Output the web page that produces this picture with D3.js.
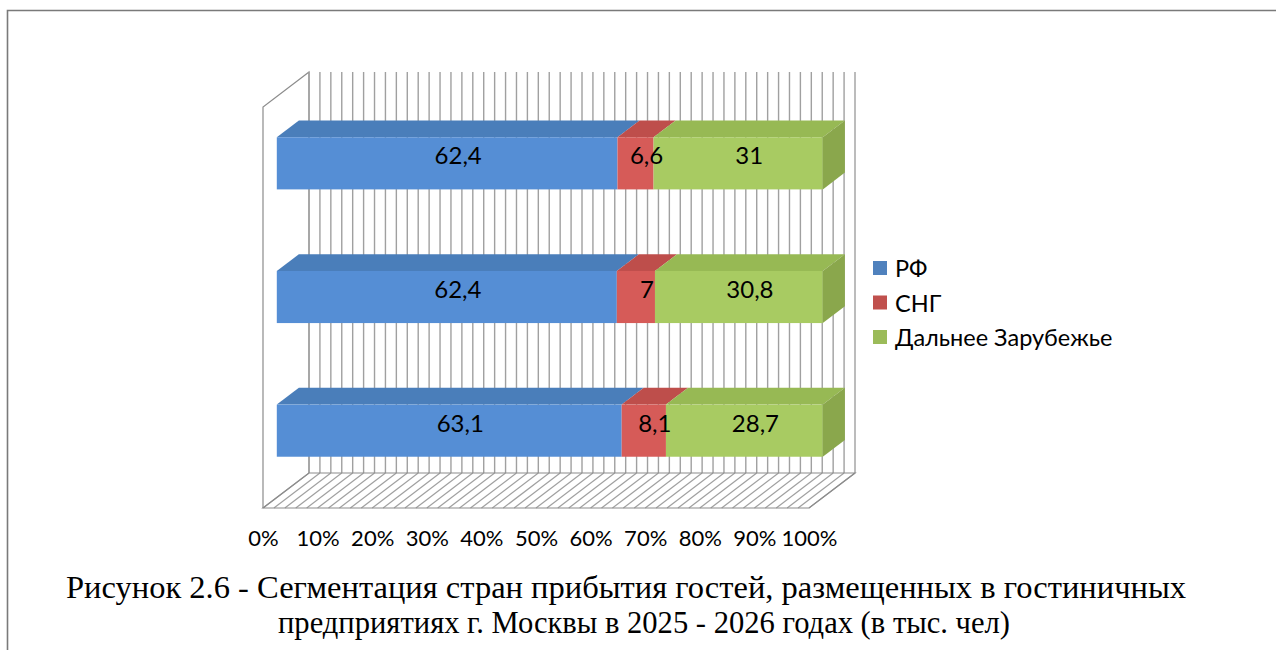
<!DOCTYPE html>
<html>
<head>
<meta charset="utf-8">
<script src="https://cdn.jsdelivr.net/npm/d3@7/dist/d3.min.js"></script>
<style>
  html, body { margin: 0; padding: 0; background: #fff; }
  svg { display: block; }
</style>
</head>
<body>
<svg id="chart" width="1276" height="650"></svg>
<script>
// ---- data ----
const categories = ["2024", "2025", "2026"];           // bottom to top (axis labels hidden in original)
const seriesNames = ["РФ", "СНГ", "Дальнее Зарубежье"];
const rfValues  = [63.1, 62.4, 62.4];
const sngValues = [8.1, 7, 6.6];
const farValues = [28.7, 30.8, 31];
const tickValuesPct = [0, 10, 20, 30, 40, 50, 60, 70, 80, 90, 100];
const captionLines = [
  "Рисунок 2.6 - Сегментация стран прибытия гостей, размещенных в гостиничных",
  "предприятиях г. Москвы в 2025 - 2026 годах (в тыс. чел)"
];

// ---- styling ----
const frontColors  = ["#558ED5", "#D65B58", "#A8CB62"];
const topColors    = ["#4A7EBA", "#BE4E4B", "#97B954"];
const sideColors   = ["#4272A8", "#A94542", "#8AA74C"];
const legendColors = ["#4F81BD", "#C0504D", "#9BBB59"];
const gridColor = "#A0A0A0";
const labelFont = "Lato, 'Open Sans', 'Noto Sans', sans-serif";

const svg = d3.select("#chart");

// outer frame
svg.append("path")
  .attr("d", "M7.5,650 L7.5,10.5 L1276,10.5")
  .attr("fill", "none").attr("stroke", "#7A7A7A").attr("stroke-width", 1.6);

// ---- scales / projection ----
const x = d3.scaleLinear().domain([0, 100]).range([263, 809]);
const y = d3.scaleBand().domain(categories.slice().reverse()).range([107, 508])
  .paddingInner(0.61).paddingOuter(0.305);
const DX = 46, DY = 35;            // full depth offset
const dFront = 0.3, dBack = 0.78;   // bar depth
const P = (v, d, yy) => [x(v) + d * DX, yy - d * DY];
const line = d3.line();

const yTop = 107, yBot = 508;
const g = svg.append("g");

// left wall outline
g.append("path")
  .attr("d", line([[x(0), yBot], [x(0), yTop], P(0, 1, yTop), P(0, 1, yBot)]))
  .attr("fill", "none").attr("stroke", "#8C8C8C").attr("stroke-width", 1.2);

// gridlines every 2% on back wall and floor
const minor = d3.range(0, 101, 2);
g.selectAll(".wall").data(minor).join("line")
  .attr("x1", d => P(d, 1, yTop)[0]).attr("x2", d => P(d, 1, yTop)[0])
  .attr("y1", P(0, 1, yTop)[1]).attr("y2", P(0, 1, yBot)[1])
  .attr("stroke", gridColor).attr("stroke-width", 1.4);
g.selectAll(".floor").data(minor).join("line")
  .attr("x1", d => P(d, 0, yBot)[0]).attr("y1", P(0, 0, yBot)[1])
  .attr("x2", d => P(d, 1, yBot)[0]).attr("y2", P(0, 1, yBot)[1])
  .attr("stroke", gridColor).attr("stroke-width", 1.2);
// floor outline
g.append("path")
  .attr("d", line([P(0, 0, yBot), P(100, 0, yBot), P(100, 1, yBot), P(0, 1, yBot)]) + "Z")
  .attr("fill", "none").attr("stroke", "#8C8C8C").attr("stroke-width", 1.2);

// ---- stacked bars (100%) ----
const rows = categories.map((c, i) => {
  const vals = [rfValues[i], sngValues[i], farValues[i]];
  const tot = d3.sum(vals);
  let acc = 0;
  return vals.map((v, s) => {
    const v0 = acc / tot * 100; acc += v;
    return { cat: c, s, value: v, v0, v1: acc / tot * 100 };
  });
});

const fmt = v => String(v).replace(".", ",");

rows.forEach(segs => {
  const y0 = y(segs[0].cat), y1 = y0 + y.bandwidth();
  const bg = g.append("g");
  segs.forEach(sg => {
    bg.append("path")
      .attr("d", line([P(sg.v0, dFront, y0), P(sg.v1, dFront, y0), P(sg.v1, dBack, y0), P(sg.v0, dBack, y0)]) + "Z")
      .attr("fill", topColors[sg.s]);
    const a = P(sg.v0, dFront, y0), b = P(sg.v1, dFront, y1);
    bg.append("rect").attr("x", a[0]).attr("y", a[1])
      .attr("width", b[0] - a[0]).attr("height", b[1] - a[1])
      .attr("fill", frontColors[sg.s]);
  });
  const last = segs[segs.length - 1];
  bg.append("path")
    .attr("d", line([P(last.v1, dFront, y0), P(last.v1, dBack, y0), P(last.v1, dBack, y1), P(last.v1, dFront, y1)]) + "Z")
    .attr("fill", sideColors[last.s]);
  const dm = (dFront + dBack) / 2;
  segs.forEach(sg => {
    const c = P((sg.v0 + sg.v1) / 2, dm, (y0 + y1) / 2);
    bg.append("text").attr("x", c[0]).attr("y", c[1])
      .attr("text-anchor", "middle").attr("dominant-baseline", "central")
      .attr("font-family", labelFont).attr("font-size", 24).attr("fill", "#000")
      .text(fmt(sg.value));
  });
});

// ---- x axis labels ----
const axis = d3.axisBottom(x).tickValues(tickValuesPct).tickFormat(d => d + "%").tickSize(0);
const ax = svg.append("g").attr("transform", `translate(0,${yBot})`).call(axis);
ax.select(".domain").remove();
ax.selectAll("text").attr("y", 38).attr("dy", 0)
  .attr("font-family", labelFont).attr("font-size", 22).attr("fill", "#000");

// ---- legend ----
const lg = svg.append("g").attr("transform", "translate(873,268)");
seriesNames.forEach((n, i) => {
  const row = lg.append("g").attr("transform", `translate(0,${i * 34.5})`);
  row.append("rect").attr("x", 0).attr("y", -7).attr("width", 14).attr("height", 14)
    .attr("fill", legendColors[i]);
  row.append("text").attr("x", 22).attr("y", 0).attr("dominant-baseline", "central")
    .attr("font-family", labelFont).attr("font-size", 23.5).attr("fill", "#000").text(n);
});

// ---- caption ----
const cap = svg.append("g");
cap.append("text").attr("x", 626).attr("y", 598).attr("text-anchor", "middle")
  .attr("font-family", "'Liberation Serif', 'Times New Roman', serif").attr("font-size", 31)
  .attr("textLength", 1120).attr("lengthAdjust", "spacingAndGlyphs")
  .text(captionLines[0]);
cap.append("text").attr("x", 644).attr("y", 633).attr("text-anchor", "middle")
  .attr("font-family", "'Liberation Serif', 'Times New Roman', serif").attr("font-size", 31)
  .attr("textLength", 732).attr("lengthAdjust", "spacingAndGlyphs")
  .text(captionLines[1]);
</script>
</body>
</html>
